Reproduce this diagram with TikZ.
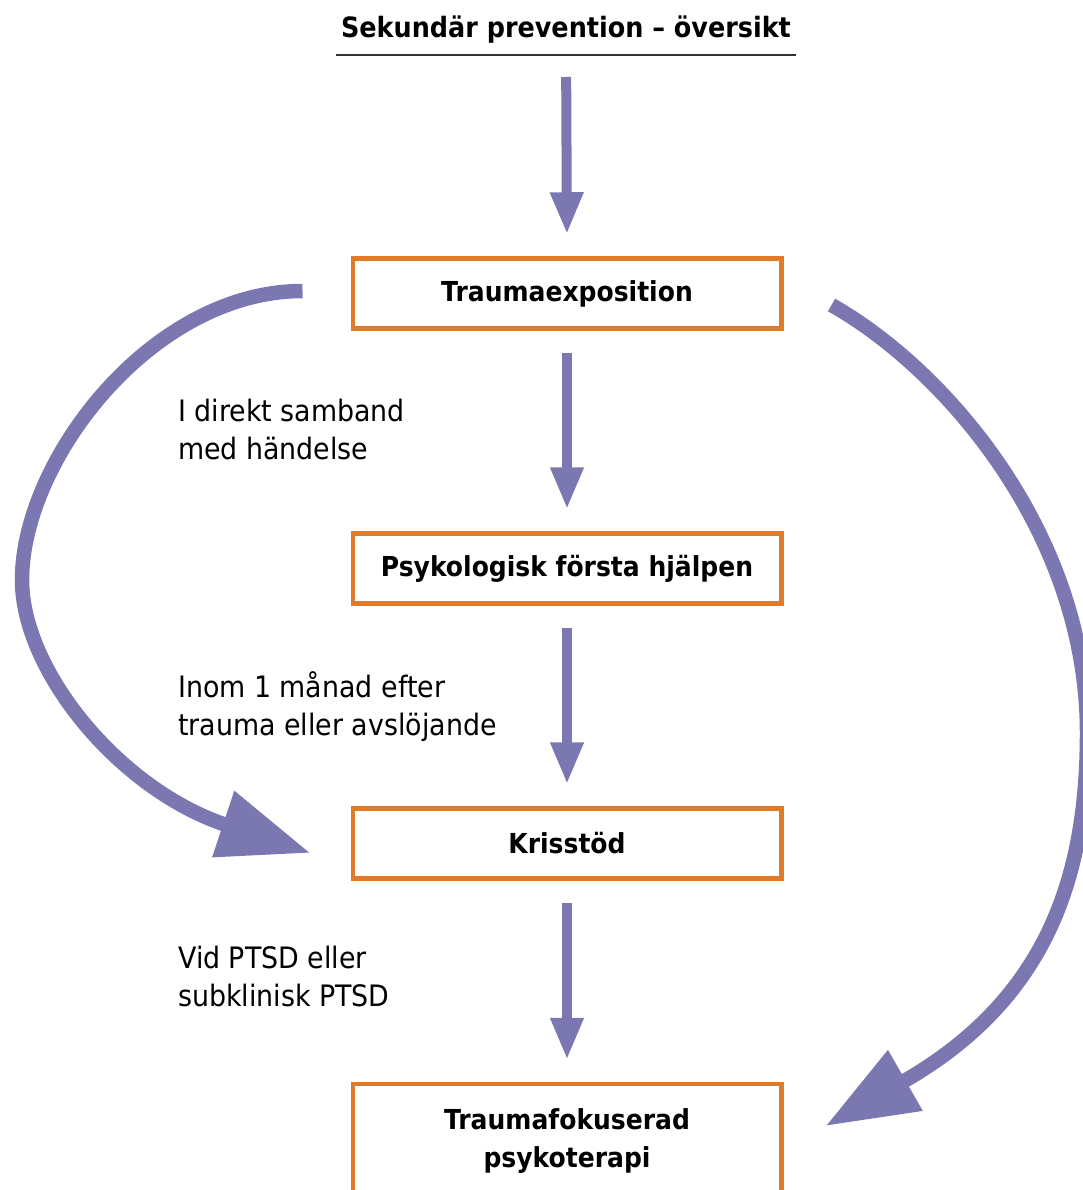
\documentclass[tikz,border=0pt]{standalone}
\usepackage{fontspec}
\setmainfont{DejaVu Sans}[FakeStretch=0.91]
\usetikzlibrary{arrows.meta,calc}
\definecolor{arrowpurple}{HTML}{7B78B1}
\definecolor{boxorange}{HTML}{E27B27}
\definecolor{rulegray}{HTML}{333333}
\begin{document}
\begin{tikzpicture}[x=1pt,y=-1pt,
  flowbox/.style={draw=boxorange, line width=4.5pt, minimum width=428.5pt, minimum height=70pt, inner sep=0pt, align=center, font=\fontsize{27.5}{38}\selectfont\bfseries},
  notetext/.style={anchor=north west, inner sep=0pt, align=left, font=\fontsize{29.5}{38}\selectfont},
  flowarrow/.style={draw=arrowpurple, line width=10pt, -{Triangle[length=42pt,width=31pt]}, shorten <=22pt, shorten >=22pt},
  bigarrow/.style={draw=arrowpurple, line width=14.5pt, -{Triangle[length=92pt,width=66pt]}}
]
\useasboundingbox (0,0) rectangle (1083,1190);
\clip (0,0) rectangle (1083,1190);

% title
\node[anchor=base, inner sep=0pt, font=\fontsize{28}{32}\selectfont\bfseries] (title) at (566,38) {Sekundär prevention – översikt};
\draw[rulegray, line width=1.5pt] ($(title.base west)+(-5,17)$) -- ($(title.base east)+(5,17)$);

% boxes
\node[flowbox] (b1) at (567,293.5) {Traumaexposition};
\node[flowbox] (b2) at (567,568.5) {Psykologisk första hjälpen};
\node[flowbox] (b3) at (567,843.5) {Krisstöd};
\node[flowbox, minimum height=114pt] (b4) at (567,1141) {Traumafokuserad\\psykoterapi};

% labels
\node[notetext] (l1) at (178,398.5) {I direkt samband\\med händelse};
\node[notetext] (l2) at (178,671) {Inom 1 månad efter\\trauma eller avslöjande};
\node[notetext] (l3) at (178,946) {Vid PTSD eller\\subklinisk PTSD};

% straight arrows
\draw[flowarrow, shorten <=39pt] (title.base) -- (b1.north);
\draw[flowarrow] (b1.south) -- (b2.north);
\draw[flowarrow] (b2.south) -- (b3.north);
\draw[flowarrow] (b3.south) -- (b4.north);

% curved arrows
\coordinate (ls) at ($(b1.west)+(-48,-2.5)$);
\coordinate (le) at ($(b3.west)+(-40,9.5)$);
\coordinate (rs) at ($(b1.east)+(48,11.5)$);
\coordinate (re) at ($(b4.east)+(42,-15)$);
\draw[bigarrow] (ls) .. controls (152,291) and (22,460) .. (22,580)
  .. controls (22,670) and (118.4,789.2) .. (le);
\draw[bigarrow] (rs) .. controls (945,369) and (1087,533) .. (1087,733)
  .. controls (1087,883) and (1043,1001.75) .. (re);
\end{tikzpicture}
\end{document}
